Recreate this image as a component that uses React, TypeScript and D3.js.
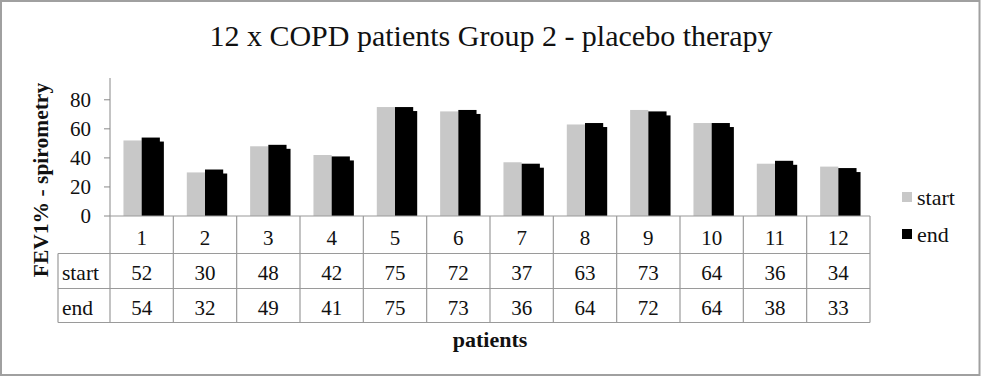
import React from "react";
import * as d3 from "d3";

const patients = ["1", "2", "3", "4", "5", "6", "7", "8", "9", "10", "11", "12"];
const startValues = [52, 30, 48, 42, 75, 72, 37, 63, 73, 64, 36, 34];
const endValues = [54, 32, 49, 41, 75, 73, 36, 64, 72, 64, 38, 33];
const yTicks = [0, 20, 40, 60, 80];
const seriesNames = ["start", "end"];

const W = 981;
const H = 376;
const FONT = "'Liberation Serif', 'DejaVu Serif', serif";
const GRID = "#9a9a9a";
const GRAY = "#c8c8c8";

export default function App() {
  const x0 = 110, x1 = 870;
  const yBase = 216;
  const x = d3.scaleBand<string>().domain(patients).range([x0, x1]);
  const y = d3.scaleLinear().domain([0, 95]).range([yBase, 78]);
  const bw = 18.2;
  const rowY = [216, 253.5, 288.5, 322.5];
  const rows = [startValues, endValues];

  return (
    <svg width={W} height={H} style={{ position: "absolute", left: 0, top: 0, background: "#fff" }} fontFamily={FONT}>
      <rect x={1} y={1} width={W - 2.5} height={H - 2} fill="#fff" stroke="#a0a0a0" strokeWidth={2} />
      <text x={491} y={46} textAnchor="middle" fontSize={30} fill="#111">
        12 x COPD patients Group 2 - placebo therapy
      </text>

      {/* y axis */}
      <line x1={x0} x2={x0} y1={y(95)} y2={yBase} stroke="#888" />
      {yTicks.map((t) => (
        <g key={t}>
          <line x1={x0 - 6} x2={x0} y1={y(t)} y2={y(t)} stroke="#888" />
          <text x={91} y={y(t) + 7} textAnchor="end" fontSize={21} fill="#111">
            {t}
          </text>
        </g>
      ))}
      <text
        transform={`translate(48,${180}) rotate(-90)`}
        textAnchor="middle"
        fontSize={21.5}
        fontWeight="bold"
        fill="#111"
      >
        FEV1% - spirometry
      </text>

      {/* bars */}
      {patients.map((p, i) => {
        const c = (x(p) as number) + x.bandwidth() / 2;
        const ys = y(startValues[i]);
        const ye = y(endValues[i]);
        return (
          <g key={p}>
            <rect x={c - bw} y={ys} width={bw} height={yBase - ys} fill={GRAY} />
            <rect x={c + 4} y={ye + 4} width={bw} height={yBase - ye - 4} fill="#000" />
            <rect x={c} y={ye} width={bw} height={yBase - ye} fill="#000" />
          </g>
        );
      })}

      {/* table */}
      <line x1={x0} x2={x1} y1={rowY[0]} y2={rowY[0]} stroke={GRID} strokeWidth={1.2} />
      {[1, 2, 3].map((r) => (
        <line key={r} x1={58} x2={x1} y1={rowY[r]} y2={rowY[r]} stroke={GRID} strokeWidth={1.2} />
      ))}
      <line x1={58} x2={58} y1={rowY[1]} y2={rowY[3]} stroke={GRID} strokeWidth={1.2} />
      {patients.map((p) => (
        <line key={p} x1={x(p) as number} x2={x(p) as number} y1={rowY[0]} y2={rowY[3]} stroke={GRID} strokeWidth={1.2} />
      ))}
      <line x1={x1} x2={x1} y1={rowY[0]} y2={rowY[3]} stroke={GRID} strokeWidth={1.2} />
      {patients.map((p) => (
        <text key={p} x={(x(p) as number) + x.bandwidth() / 2} y={245} textAnchor="middle" fontSize={21} fill="#111">
          {p}
        </text>
      ))}
      {rows.map((vals, r) => (
        <g key={r}>
          <text x={62} y={rowY[r + 1] + 26} fontSize={21.5} fill="#111">
            {seriesNames[r]}
          </text>
          {vals.map((v, i) => (
            <text
              key={i}
              x={(x(patients[i]) as number) + x.bandwidth() / 2}
              y={rowY[r + 1] + 26.5}
              textAnchor="middle"
              fontSize={21}
              fill="#111"
            >
              {v}
            </text>
          ))}
        </g>
      ))}
      <text x={490} y={347} textAnchor="middle" fontSize={22} fontWeight="bold" fill="#111">
        patients
      </text>

      {/* legend */}
      {seriesNames.map((s, i) => (
        <g key={s}>
          <rect x={902} y={192 + i * 37} width={10} height={10} fill={i === 0 ? GRAY : "#000"} />
          <text x={917} y={205 + i * 37} fontSize={22} fill="#111">
            {s}
          </text>
        </g>
      ))}
    </svg>
  );
}
